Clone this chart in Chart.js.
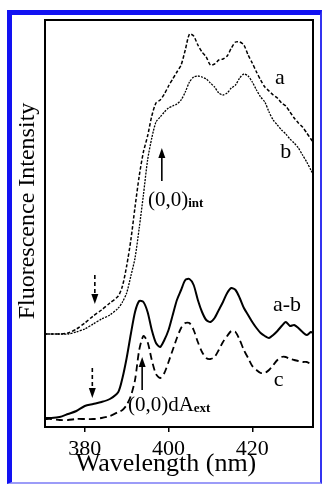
<!DOCTYPE html>
<html>
<head>
<meta charset="utf-8">
<script src="https://cdn.jsdelivr.net/npm/chart.js@4.4.1/dist/chart.umd.min.js"></script>
<style>
  html, body { margin: 0; padding: 0; background: #fff; }
  #wrap { position: relative; width: 322px; height: 485px; }
  #frame {
    position: absolute; left: 7px; top: 10px; width: 315px; height: 474px;
    box-sizing: border-box; pointer-events: none;
    border-top: 5px solid #1212f2; border-left: 5px solid #1212f2;
    border-right: 2px solid #3434f0; border-bottom: 2px solid #9c9cf8;
  }
</style>
</head>
<body>
<div id="wrap">
  <canvas id="spectra" width="322" height="485"></canvas>
  <div id="frame"></div>
</div>
<script>
// wavelength grid (nm) shared by all four spectra
const wavelengths = [370.5, 372, 374, 376, 378, 380, 382, 384, 386, 388,
  389, 390, 391, 392, 393, 394, 395, 396, 397, 398, 399, 400, 401, 402, 403, 404, 405,
  406, 407, 408, 409, 410, 411, 412, 413, 414, 415, 416, 417, 418, 419, 420, 421, 422,
  423, 424, 425, 426, 427, 428, 429, 430, 431, 432, 433, 434, 434.5];

// intensities (arb. units)
const curveA = [93, 93, 93, 94, 98, 104, 111, 117, 124, 131,
  141, 161, 187, 220, 251, 275, 291, 311, 324, 327, 333, 341, 348, 355, 362, 377, 393,
  391, 382, 375, 370, 362, 363, 367, 368, 371, 379, 385, 385, 382, 372, 364, 355, 347,
  340, 336, 332, 329, 324, 321, 315, 309, 304, 300, 294, 288, 285];
const curveB = [93, 93, 93, 93, 95, 98, 103, 108, 112, 119,
  125, 134, 151, 169, 199, 232, 267, 289, 305, 310, 315, 319, 321, 323, 327, 335, 345,
  350, 351, 350, 348, 344, 340, 334, 332, 334, 339, 342, 349, 353, 351, 345, 337, 330,
  325, 315, 307, 302, 297, 293, 288, 284, 279, 272, 265, 257, 253];
const curveAB = [9, 9, 10, 13, 16, 21, 23, 25, 28, 35,
  49, 69, 93, 115, 126, 125, 115, 97, 84, 80, 87, 97, 112, 127, 137, 147, 148,
  142, 127, 115, 107, 105, 109, 117, 125, 134, 139, 137, 129, 119, 112, 105, 99, 94,
  91, 89, 92, 96, 101, 105, 101, 102, 99, 95, 92, 95, 94];
const curveC = [8, 8, 7, 7, 8, 8, 8, 9, 11, 15,
  17, 22, 31, 47, 77, 91, 85, 67, 53, 49, 54, 65, 77, 89, 99, 104, 104,
  97, 85, 75, 69, 68, 70, 77, 85, 91, 96, 95, 87, 77, 69, 61, 57, 54,
  54, 57, 62, 67, 70, 70, 68, 67, 66, 65, 65, 63, 62];

const xTicks = [380, 400, 420];
const xRange = [370.5, 434.5];
const yRange = [0, 407];

const SERIF = '"Liberation Serif", "DejaVu Serif", serif';

const pts = arr => wavelengths.map((w, i) => ({ x: w, y: arr[i] }));

// label + arrow annotations, in data coordinates
const labels = [
  { text: 'a', x: 426.6, y: 349 },
  { text: 'b', x: 428.0, y: 275 },
  { text: 'a-b', x: 428.3, y: 122 },
  { text: 'c', x: 426.3, y: 47 }
];
const arrows = [
  { x: 398.4, from: 246, to: 279, dashed: false },
  { x: 382.4, from: 152, to: 123, dashed: true },
  { x: 381.8, from: 59, to: 29, dashed: true },
  { x: 393.7, from: 37, to: 70, dashed: false }
];
const subLabels = [
  { main: '(0,0)', sub: 'int', x: 395.1, y: 227 },
  { main: '(0,0)dA', sub: 'ext', x: 390.3, y: 22 }
];

function drawArrow(ctx, x, y0, y1, dashed) {
  const d = y1 < y0 ? 1 : -1; // head pointing up when d = 1
  ctx.lineWidth = 1.6;
  ctx.setLineDash(dashed ? [4, 3] : []);
  ctx.beginPath();
  ctx.moveTo(x, y0);
  ctx.lineTo(x, y1 + d * 7);
  ctx.stroke();
  ctx.setLineDash([]);
  ctx.beginPath();
  ctx.moveTo(x, y1);
  ctx.lineTo(x - 3.5, y1 + d * 10);
  ctx.lineTo(x + 3.5, y1 + d * 10);
  ctx.closePath();
  ctx.fill();
}

const notes = {
  id: 'notes',
  afterDraw(chart) {
    const { ctx, chartArea: ca, scales: { x, y } } = chart;
    ctx.save();
    ctx.strokeStyle = '#000';
    ctx.fillStyle = '#000';
    ctx.lineWidth = 2;
    ctx.strokeRect(ca.left, ca.top, ca.right - ca.left, ca.bottom - ca.top);

    arrows.forEach(a => drawArrow(ctx, x.getPixelForValue(a.x), y.getPixelForValue(a.from), y.getPixelForValue(a.to), a.dashed));

    ctx.textBaseline = 'middle';
    ctx.textAlign = 'center';
    ctx.font = '22px ' + SERIF;
    labels.forEach(l => ctx.fillText(l.text, x.getPixelForValue(l.x), y.getPixelForValue(l.y)));

    ctx.textAlign = 'left';
    subLabels.forEach(l => {
      const px = x.getPixelForValue(l.x), py = y.getPixelForValue(l.y);
      ctx.font = '21px ' + SERIF;
      ctx.fillText(l.main, px, py);
      const w = ctx.measureText(l.main).width;
      ctx.font = 'bold 13px ' + SERIF;
      ctx.fillText(l.sub, px + w, py + 4);
    });

    // axis titles
    ctx.textBaseline = 'alphabetic';
    ctx.textAlign = 'center';
    ctx.font = '26px ' + SERIF;
    ctx.fillText('Wavelength (nm)', 166, 471);
    ctx.translate(34, 211);
    ctx.rotate(-Math.PI / 2);
    ctx.font = '24px ' + SERIF;
    ctx.fillText('Fluorescence Intensity', 0, 0);
    ctx.restore();
  }
};

new Chart(document.getElementById('spectra'), {
  type: 'line',
  data: {
    datasets: [
      { label: 'a', data: pts(curveA), borderColor: '#000', borderWidth: 1.5, borderDash: [3.5, 2] },
      { label: 'b', data: pts(curveB), borderColor: '#000', borderWidth: 1.3, borderDash: [2, 1.2] },
      { label: 'a-b', data: pts(curveAB), borderColor: '#000', borderWidth: 2 },
      { label: 'c', data: pts(curveC), borderColor: '#000', borderWidth: 1.8, borderDash: [7, 4] }
    ]
  },
  options: {
    responsive: false,
    devicePixelRatio: 1,
    animation: false,
    layout: { padding: { top: 20, right: 9, left: 0, bottom: 0 } },
    elements: { point: { radius: 0 }, line: { tension: 0.25, fill: false } },
    plugins: { legend: { display: false }, tooltip: { enabled: false } },
    scales: {
      x: {
        type: 'linear', min: xRange[0], max: xRange[1],
        afterBuildTicks: s => { s.ticks = xTicks.map(v => ({ value: v })); },
        afterFit: s => { s.height = 58; },
        grid: { drawOnChartArea: false, drawTicks: true, tickLength: 5, color: '#000', lineWidth: 1.5 },
        border: { color: '#000', width: 2 },
        ticks: { color: '#000', font: { family: SERIF, size: 22 }, padding: 4, maxRotation: 0 }
      },
      y: {
        min: yRange[0], max: yRange[1],
        afterFit: s => { s.width = 45; },
        grid: { display: false },
        border: { color: '#000', width: 2 },
        ticks: { display: false }
      }
    }
  },
  plugins: [notes]
});
</script>
</body>
</html>
